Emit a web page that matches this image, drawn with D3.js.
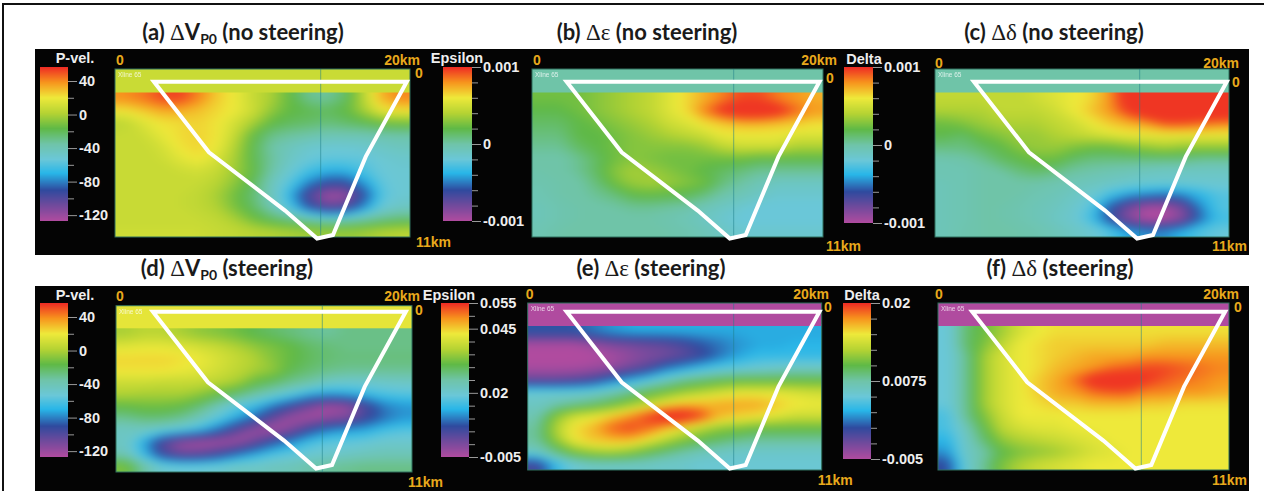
<!DOCTYPE HTML>
<html>
<head>
<title>Velocity and anisotropy updates</title>
<meta charset="UTF8">
<script src="https://d3js.org/d3.v7.min.js"></script>
<style>
	body { margin: 0; background: white; overflow: hidden; }
	svg { display: block; }
	.title { font-family: Lato, "Open Sans", sans-serif; font-weight: 700; font-size: 22px; text-anchor: middle; fill: #1a1a1a; }
	.title .sym { font-family: "Liberation Serif", serif; font-weight: 400; font-size: 23px; }
	.title .sub { font-size: 14px; }
	.km { font-family: "Liberation Sans", sans-serif; font-weight: 700; font-size: 14px; fill: #e8a91c; }
	.barname { font-family: "Liberation Sans", sans-serif; font-weight: 700; font-size: 14.5px; fill: #eeeeee; text-anchor: middle; }
	.xline { font-family: "Liberation Sans", sans-serif; font-size: 6.5px; fill: #ffffff; opacity: 0.75; }
	.baraxis text { font-family: "Liberation Sans", sans-serif; font-weight: 700; font-size: 14.5px; fill: #eeeeee; }
	.baraxis line { stroke: #999999; }
	.baraxis path { display: none; }
</style>
</head>
<body>
<svg width="1264" height="491">
	<defs>
		<filter id="soft" x="-5%" y="-5%" width="110%" height="110%" color-interpolation-filters="sRGB">
			<feGaussianBlur stdDeviation="6 4"></feGaussianBlur>
		</filter>
	</defs>
</svg>
<script>
// colour ramp, 0 = top of bar, 1 = bottom
const rampStops = [0, 0.1, 0.2, 0.3, 0.4, 0.5, 0.6, 0.69, 0.8, 0.89, 1];
const rampColors = ["#ee2a24", "#f7941d", "#eee93a", "#b5d333", "#5fb946", "#6fc4a8", "#6ac7d8", "#28b6e8", "#2f4a9e", "#6b4a9c", "#b04b9f"];

// well outline, km
const wellX = [2.64, 19.78, 17.0, 14.78, 13.7, 11.53, 6.37];
const wellY = [0.83, 0.83, 5.74, 10.87, 11.1, 9.27, 5.45];

const nCols = 16;
const nRows = 12;

// grids below the flat Xline strip, row by row
// (a) P-vel
const gridA = [
	40, 44, 52, 54, 42, 28, 20, 8, 0, -15, -30, -32, -22, 5, 34, 42,
	22, 28, 34, 34, 30, 25, 20, 10, -5, -15, -18, -20, -15, 0, 20, 22,
	5, 15, 22, 24, 26, 22, 12, 0, -15, -20, -22, -25, -22, -18, -12, -10,
	8, 10, 18, 24, 26, 22, 8, -15, -28, -32, -35, -38, -38, -38, -36, -35,
	8, 8, 12, 22, 26, 20, 3, -18, -35, -42, -48, -50, -50, -48, -45, -42,
	8, 8, 10, 16, 22, 14, 0, -18, -32, -45, -52, -55, -55, -55, -50, -48,
	8, 8, 8, 10, 12, 8, -2, -15, -35, -50, -62, -68, -68, -60, -52, -50,
	8, 8, 8, 8, 8, 4, -6, -20, -42, -58, -78, -90, -90, -74, -55, -50,
	8, 8, 8, 8, 6, 0, -12, -25, -42, -68, -100, -122, -120, -90, -58, -50,
	8, 8, 8, 8, 6, 2, -10, -22, -40, -60, -88, -105, -100, -76, -52, -45,
	8, 8, 8, 8, 8, 6, 0, -12, -22, -30, -40, -45, -45, -38, -30, -25,
	10, 10, 10, 10, 10, 8, 6, 4, 2, 0, -2, -4, -4, -2, 2, 4
];
// (b) Epsilon x 1e-4
const gridB = [
	2.5, 2.5, 2.5, 3, 3.5, 4, 4.5, 5.5, 6.5, 7.5, 8.5, 9.5, 9.5, 8.5, 8, 7.5,
	2, 2, 2.5, 3, 3.5, 4, 4.5, 5.5, 6.5, 8.5, 10.5, 12, 12, 11, 9, 8,
	1.5, 1.5, 2, 2.5, 3, 3.5, 4, 5, 5.5, 6.5, 7, 7.5, 7.5, 7.2, 7, 6.5,
	1, 1, 2, 2, 2.5, 3, 3.5, 4, 4.5, 5, 6, 6, 6, 6, 5.5, 5.5,
	0.5, 0.5, 1.5, 2, 2.5, 3, 3, 3, 3, 3.5, 4.5, 5, 5, 5, 4, 4,
	0, 0, 0.5, 1.5, 2.5, 3, 2.8, 2.5, 2.5, 2.5, 2.5, 2.5, 2, 2, 2, 2,
	0, 0, 0.5, 1.5, 3, 3.8, 3.5, 3, 2.5, 2, 1.5, 1, 0.5, 0.5, 0.5, 0.5,
	-0.2, 0, 0, 1, 2.5, 3.5, 3.8, 3.5, 3, 2.5, 1, 0.2, -0.5, -1, -1, -1,
	-0.3, 0, 0, 0.5, 1, 2, 2.2, 2, 1.8, 1, 0, -0.5, -1, -1.5, -1.5, -1.5,
	-0.5, -0.2, 0, 0, 0.2, 0.5, 0.5, 0.3, 0, -0.5, -1, -1.5, -2, -2, -2, -2,
	-0.5, -0.2, 0, 0, 0, 0, 0, -0.2, -0.5, -1, -1.5, -2, -2, -2, -2, -2,
	-0.3, 0, 0.2, 0.2, 0.2, 0.2, 0.2, 0, -0.2, -0.5, -1, -1.5, -1.5, -1.5, -1.5, -1.5
];
// (c) Delta x 1e-4
const gridC = [
	4.5, 4.5, 4.5, 4.5, 4.5, 5, 5.5, 6, 6.5, 8, 11, 13, 13, 13, 13, 13,
	4, 4, 4, 4.5, 4.5, 4.5, 5, 6, 7, 8, 10, 12.5, 13, 13, 13, 13,
	2.5, 3, 3.5, 4, 4, 4, 4.5, 5, 6, 7, 7.5, 8, 9.5, 9.5, 9, 8.5,
	2, 1.5, 2.5, 3, 3.5, 3.5, 4, 4.5, 5, 5.5, 6, 6, 6, 6, 6, 6,
	1, 1, 1.5, 2, 3, 3.5, 3.5, 3, 2.5, 2.5, 3, 3.5, 4, 3.5, 3.5, 3.5,
	-0.2, 0, 0.5, 1.5, 2, 2.5, 2.5, 1.5, 1, 1, 1, 1, 1, 1, 0.5, 0.5,
	-0.3, -0.3, 0, 0.2, 1, 1.5, 1, 0.3, 0, -0.3, -0.5, -0.8, -1, -1, -1, -1,
	-0.5, -0.3, 0, 0, 0, 0, -0.2, -0.5, -0.8, -1, -1.3, -1.5, -1.5, -1.5, -1.5, -1.5,
	-0.5, -0.3, 0, 0, 0, -0.3, -0.5, -1, -1.5, -3, -4, -4.5, -5, -4.5, -3.5, -2.5,
	-0.5, -0.3, 0, 0, -0.2, -0.5, -0.8, -1.3, -2.5, -5.5, -8, -9.5, -9.5, -8, -4.5, -2.5,
	-0.5, -0.3, 0, 0, -0.2, -0.5, -1, -1.5, -3, -6, -8.5, -10, -10, -8.5, -5, -3,
	-0.5, -0.2, 0, 0, 0, -0.2, -0.5, -1, -1.5, -2.5, -4, -4.5, -4.5, -3.5, -2.5, -2
];
// (d) P-vel
const gridD = [
	0, 5, 5, 0, -5, -8, -12, -18, -22, -26, -30, -32, -28, -28, -28, -28,
	16, 18, 18, 16, 12, 8, 2, -5, -10, -15, -22, -25, -28, -28, -28, -28,
	25, 25, 25, 24, 20, 14, 8, 2, -8, -15, -20, -24, -26, -26, -26, -26,
	23, 23, 23, 20, 17, 12, 6, 0, -5, -18, -24, -28, -30, -30, -30, -30,
	10, 10, 8, 8, 8, 5, 0, -15, -22, -30, -35, -45, -48, -48, -46, -45,
	2, 0, 0, 0, -5, -15, -25, -35, -45, -55, -68, -72, -70, -65, -60, -58,
	-15, -12, -12, -15, -25, -40, -55, -65, -80, -95, -110, -122, -118, -98, -80, -75,
	-30, -25, -25, -30, -40, -55, -70, -85, -105, -120, -122, -115, -112, -94, -82, -75,
	-45, -45, -50, -55, -65, -82, -102, -118, -122, -110, -90, -78, -72, -70, -62, -58,
	-45, -70, -100, -118, -122, -122, -120, -106, -88, -75, -62, -55, -55, -52, -48, -48,
	-40, -65, -95, -108, -106, -96, -82, -70, -60, -55, -50, -48, -45, -42, -40, -40,
	-10, -35, -50, -52, -52, -50, -45, -45, -42, -40, -35, -32, -30, -28, -28, -28
];
// (e) Epsilon x 1e-3
const gridE = [
	8, 8, 8, 10, 12, 13, 13, 13, 13, 13, 13, 13, 13, 13, 13, 13,
	-4, -4, -4, -2, 0, 1, 2, 3, 5, 8, 10, 12, 13, 13, 14, 14,
	-5, -5, -5, -5, -4, -2, 0, 1, 3, 6, 10, 13, 15, 15, 15, 15,
	-4, -4, -4, -3, -2, 1, 4, 10, 13, 16, 18, 19, 20, 21, 22, 22,
	2, 2, 3, 5, 10, 14, 18, 22, 26, 28, 30, 31, 31, 31, 31, 31,
	20, 20, 20, 21, 23, 26, 30, 33, 36, 38, 40, 42, 42, 42, 41, 40,
	22, 24, 26, 28, 31, 35, 39, 43, 46, 47, 48, 48, 48, 46, 44, 43,
	24, 34, 40, 42, 45, 49, 54, 60, 60, 54, 47, 45, 44, 42, 40, 40,
	26, 37, 44, 47, 52, 54, 52, 47, 42, 38, 35, 34, 32, 32, 32, 32,
	26, 35, 43, 46, 47, 47, 43, 38, 34, 31, 29, 27, 26, 26, 26, 26,
	22, 27, 33, 36, 37, 35, 31, 28, 25, 23, 22, 21, 21, 21, 21, 21,
	5, 15, 20, 22, 22, 22, 22, 21, 21, 20, 20, 20, 20, 20, 20, 20
];
// (f) Delta x 1e-3
const gridF = [
	5, 9, 10.5, 12, 14, 15, 15.5, 15.5, 15.5, 15.5, 15.5, 15.5, 15.5, 15.5, 15.5, 15.5,
	5, 9, 11, 13, 15, 15.5, 16, 16, 16, 16, 16, 16, 16.5, 16.5, 16.5, 16.5,
	5, 8, 12, 14, 15, 15.5, 16, 16.5, 17, 17, 17, 17.5, 17.5, 17.5, 17.5, 17.5,
	5, 8, 12, 14, 15, 15.5, 16.5, 17, 17.5, 18.5, 19, 19.5, 19.5, 19, 18.5, 18,
	5, 8, 12, 14, 15, 16, 17, 18.5, 21, 22, 21.5, 20, 19, 18.5, 18, 17.5,
	5, 8, 12, 14, 15, 16, 17, 17.5, 18.5, 19, 19, 18, 18, 17.5, 17.5, 17,
	5, 8, 12, 14, 15, 15.5, 16, 16, 16.5, 16.5, 16.5, 16, 16, 15.5, 15.5, 15.5,
	4, 8, 11, 13.5, 15, 15, 15, 15, 15, 15, 15, 15, 15, 15, 15, 15,
	4, 6.5, 10, 13, 14, 14.5, 14.5, 15, 15, 15, 15, 15, 15, 15, 15, 15,
	3, 6, 9, 11.5, 12.5, 13, 13.5, 14, 14.5, 15, 15, 15, 15, 15, 15, 15,
	2, 6, 7.5, 10, 11, 11.5, 12, 13, 14, 14.5, 15, 15, 15, 15, 15, 15,
	0, 5.5, 8, 11, 12.5, 13.5, 14, 14.5, 15, 15, 15, 15, 15, 15, 15, 15
];

// value at top and bottom of each colour bar, in the grid's units
const barTops = [56.7, 10, 10, 56.7, 55, 20];
const barBottoms = [-127, -10, -10, -127, -5, -5];
// colour of the flat strip on top of each section
const stripValues = [8, 0, 0, 17, -5, -5];
const barNames = ["P-vel.", "Epsilon", "Delta", "P-vel.", "Epsilon", "Delta"];
const tickValues = [[40, 0, -40, -80, -120], [10, 0, -10], [10, 0, -10], [40, 0, -40, -80, -120], [55, 45, 20, -5], [20, 7.5, -5]];
const tickLabels = [["40", "0", "-40", "-80", "-120"], ["0.001", "0", "-0.001"], ["0.001", "0", "-0.001"], ["40", "0", "-40", "-80", "-120"], ["0.055", "0.045", "0.02", "-0.005"], ["0.02", "0.0075", "-0.005"]];
const minorTicks = [[20, -20, -60, -100], [8, 6, 4, 2, -2, -4, -6, -8], [8, 6, 4, 2, -2, -4, -6, -8], [20, -20, -60, -100], [50, 40, 35, 30, 25, 15, 10, 5, 0], [17.5, 15, 12.5, 10, 5, 2.5, 0, -2.5]];

const grids = [gridA, gridB, gridC, gridD, gridE, gridF];

// page layout, one row per panel
const layout = [
	{ cx: 243, ty: 40, title: ["(a) ", "Δ", "V", "P0", " (no steering)"], bar: [40, 68, 67, 221], nameX: 75, nameY: 63, plot: [115, 410, 69, 92.5, 237], line: 320.7, well: [115, 410, 69, 237], k0: [116, 65], k20: [420, 65], kr: [415, 78], k11: [416, 247] },
	{ cx: 647, ty: 40, title: ["(b) ", "Δ", "ε", "", " (no steering)"], bar: [443, 472, 67, 221], nameX: 457, nameY: 63, plot: [532, 823, 69, 92.5, 237], line: 733.7, well: [527.7, 822.7, 69, 237], k0: [533, 65], k20: [837, 65], kr: [826, 83], k11: [826, 251] },
	{ cx: 1054, ty: 40, title: ["(c) ", "Δ", "δ", "", " (no steering)"], bar: [844, 873, 67, 223], nameX: 864, nameY: 64, plot: [935, 1229, 69, 92.5, 237], line: 1139.7, well: [935, 1230, 69, 237], k0: [935, 68], k20: [1239, 68], kr: [1232, 87], k11: [1212, 251] },
	{ cx: 227, ty: 276, title: ["(d) ", "Δ", "V", "P0", " (steering)"], bar: [40, 68, 303, 457], nameX: 75, nameY: 300, plot: [116, 412, 305.7, 328.3, 472], line: 322.3, well: [114, 409, 299, 467], k0: [116, 301], k20: [420, 301], kr: [415, 315], k11: [408, 487] },
	{ cx: 651, ty: 276, title: ["(e) ", "Δ", "ε", "", " (steering)"], bar: [441, 469, 303, 457], nameX: 449, nameY: 300, plot: [527.7, 821.7, 303, 326, 470], line: 733.7, well: [527.7, 822.7, 299, 467], k0: [525.7, 299], k20: [829, 299], kr: [824, 312], k11: [817.7, 485] },
	{ cx: 1060, ty: 276, title: ["(f) ", "Δ", "δ", "", " (steering)"], bar: [843, 871, 303, 459], nameX: 862, nameY: 300, plot: [938, 1229, 303, 326, 470], line: 1141.3, well: [933.3, 1228.3, 299, 467], k0: [935, 299], k20: [1239, 299], kr: [1234, 312], k11: [1212, 485] }
];

const svg = d3.select("svg");
const ramp = d3.scaleLinear().domain(rampStops).range(rampColors).interpolate(d3.interpolateRgb).clamp(true);
const pad = 3; // edge cells repeated round the grid so the blur has something to work with

// outer frame and the two black plates
svg.append("rect").attr("x", 3).attr("y", 4).attr("width", 1300).attr("height", 600)
	.attr("fill", "none").attr("stroke", "#111").attr("stroke-width", 2);
svg.append("rect").attr("x", 35).attr("y", 49).attr("width", 1214).attr("height", 206).attr("fill", "#040404");
svg.append("rect").attr("x", 35).attr("y", 286).attr("width", 1214).attr("height", 205).attr("fill", "#040404");

layout.forEach((p, i) => {
	const g = svg.append("g");
	const pos = d3.scaleLinear().domain([barTops[i], barBottoms[i]]).range([0, 1]);
	const colour = v => ramp(pos(v));

	// title
	const t = g.append("text").attr("class", "title").attr("x", p.cx).attr("y", p.ty);
	t.append("tspan").text(p.title[0]);
	t.append("tspan").attr("class", "sym").text(p.title[1]);
	t.append("tspan").attr("class", p.title[2] === "V" ? "" : "sym").text(p.title[2]);
	if (p.title[3]) t.append("tspan").attr("class", "sub").attr("dy", 4).text(p.title[3]);
	t.append("tspan").attr("dy", p.title[3] ? -4 : 0).text(p.title[4]);

	// colour bar
	const barY = d3.scaleLinear().domain([barTops[i], barBottoms[i]]).range([p.bar[2], p.bar[3]]);
	const steps = d3.range(p.bar[2], p.bar[3]);
	g.append("g").selectAll("rect").data(steps).join("rect")
		.attr("x", p.bar[0]).attr("width", p.bar[1] - p.bar[0])
		.attr("y", d => d).attr("height", d => Math.min(1.5, p.bar[3] - d))
		.attr("fill", d => colour(barY.invert(d + 0.5)));
	g.append("text").attr("class", "barname").attr("x", p.nameX).attr("y", p.nameY).text(barNames[i]);

	const axisMinor = d3.axisRight(barY).tickValues(minorTicks[i]).tickSize(6).tickFormat("");
	const axisMajor = d3.axisRight(barY).tickValues(tickValues[i]).tickSize(9).tickPadding(2)
		.tickFormat((d, k) => tickLabels[i][k]);
	g.append("g").attr("class", "baraxis").attr("transform", `translate(${p.bar[1]},0)`).call(axisMinor);
	g.append("g").attr("class", "baraxis").attr("transform", `translate(${p.bar[1]},0)`).call(axisMajor);

	// section: contoured grid under a flat strip
	const [x0, x1, y0, yStrip, y1] = p.plot;
	const sx = d3.scaleLinear().domain([pad, pad + nCols]).range([x0, x1]);
	const sy = d3.scaleLinear().domain([pad, pad + nRows]).range([yStrip, y1]);
	const path = d3.geoPath(d3.geoTransform({
		point(x, y) { this.stream.point(sx(x), sy(y)); }
	}));
	const lo = barBottoms[i], hi = barTops[i];
	const thresholds = d3.range(0, 90).map(k => lo + (hi - lo) * k / 90);

	const w = nCols + 2 * pad, h = nRows + 2 * pad;
	const padded = d3.range(w * h).map(k => {
		const cx = Math.max(0, Math.min(nCols - 1, k % w - pad));
		const cy = Math.max(0, Math.min(nRows - 1, Math.floor(k / w) - pad));
		return grids[i][cy * nCols + cx];
	});
	const bands = d3.contours().size([w, h]).thresholds(thresholds)(padded);

	svg.select("defs").append("clipPath").attr("id", "clip" + i)
		.append("rect").attr("x", x0).attr("y", yStrip - 2).attr("width", x1 - x0).attr("height", y1 - yStrip + 2);
	g.append("g").attr("clip-path", `url(#clip${i})`)
		.append("g").attr("filter", "url(#soft)")
		.selectAll("path").data(bands).join("path")
		.attr("d", path).attr("fill", d => colour(d.value));

	g.append("rect").attr("x", x0).attr("y", y0).attr("width", x1 - x0).attr("height", yStrip - y0).attr("fill", colour(stripValues[i]));
	g.append("rect").attr("x", x0).attr("y", y0).attr("width", x1 - x0).attr("height", y1 - y0)
		.attr("fill", "none").attr("stroke", "#2f6f5c").attr("stroke-width", 1);
	g.append("line").attr("x1", p.line).attr("x2", p.line).attr("y1", y0).attr("y2", y1)
		.attr("stroke", "#1f7f8a").attr("stroke-opacity", 0.55).attr("stroke-width", 1);
	g.append("text").attr("class", "xline").attr("x", x0 + 3).attr("y", y0 + 8).text("Xline 65");

	// well outline
	const wx = d3.scaleLinear().domain([0, 20]).range([p.well[0], p.well[1]]);
	const wy = d3.scaleLinear().domain([0, 11]).range([p.well[2], p.well[3]]);
	g.append("path")
		.attr("d", d3.line().x(k => wx(wellX[k])).y(k => wy(wellY[k])).curve(d3.curveLinearClosed)(d3.range(wellX.length)))
		.attr("fill", "none").attr("stroke", "white").attr("stroke-width", 4).attr("stroke-linejoin", "miter");

	// km labels
	g.append("text").attr("class", "km").attr("x", p.k0[0]).attr("y", p.k0[1]).text("0");
	g.append("text").attr("class", "km").attr("x", p.k20[0]).attr("y", p.k20[1]).attr("text-anchor", "end").text("20km");
	g.append("text").attr("class", "km").attr("x", p.kr[0]).attr("y", p.kr[1]).text("0");
	g.append("text").attr("class", "km").attr("x", p.k11[0]).attr("y", p.k11[1]).text("11km");
});
</script>
</body>
</html>
